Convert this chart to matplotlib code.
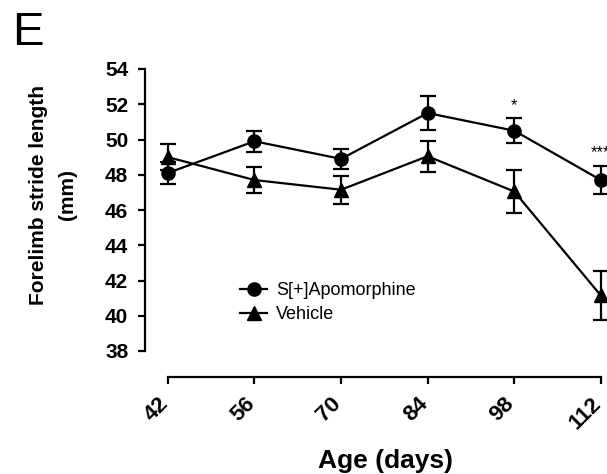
import matplotlib
matplotlib.use("Agg")
import matplotlib.pyplot as plt
import matplotlib.transforms as mtransforms
from matplotlib.lines import Line2D

plt.rcParams['font.family'] = ['Liberation Sans', 'DejaVu Sans']

# Age in days and forelimb stride length (mean ± SEM)
ages = [42, 56, 70, 84, 98, 112]
apo_mean = [48.1, 49.9, 48.9, 51.5, 50.5, 47.7]
apo_sem = [0.65, 0.6, 0.55, 0.95, 0.72, 0.82]
veh_mean = [49.0, 47.7, 47.15, 49.05, 47.05, 41.15]
veh_sem = [0.75, 0.75, 0.8, 0.88, 1.2, 1.4]
stars = {98: "*", 112: "***"}
yticks = [38, 40, 42, 44, 46, 48, 50, 52, 54]

W, H = 607, 474
fig = plt.figure(figsize=(W / 100, H / 100), dpi=100)
ax = fig.add_axes([145 / W, 1 - 351 / H, 462 / W, 282 / H])

# detached axes: spines first, since moving a spine resets its ticks
for s in ('top', 'right'):
    ax.spines[s].set_visible(False)
ax.spines['left'].set_linewidth(1.6)
ax.spines['bottom'].set_linewidth(1.6)
ax.spines['bottom'].set_position(('outward', 19))
ax.spines['bottom'].set_bounds(42, 112)
ax.patch.set_visible(False)

common = dict(color='black', lw=1.6, elinewidth=1.6, capsize=5.5, capthick=1.6,
              markersize=9.5, clip_on=False, zorder=3)
ax.errorbar(ages, apo_mean, yerr=apo_sem, marker='o', **common)
ax.errorbar(ages, veh_mean, yerr=veh_sem, marker='^', **common)

# significance markers above the treated group
for a, s in stars.items():
    i = ages.index(a)
    ax.text(a, apo_mean[i] + apo_sem[i] + 0.3, s, ha='center', va='bottom',
            fontsize=12, clip_on=False)

ax.set_xlim(38.3, 113.0)
ax.set_ylim(38, 54)
ax.set_yticks(yticks)
ax.set_xticks(ages)
ax.tick_params(axis='both', direction='out', length=5, width=1.6)
ax.tick_params(axis='y', pad=7)
ax.tick_params(axis='x', pad=12)
ax.set_xticklabels([str(a) for a in ages], rotation=45, ha='right', va='center',
                   rotation_mode='anchor', fontsize=16, fontweight='bold')
ax.set_yticklabels([str(v) for v in yticks], fontsize=15, fontweight='bold')
shift = mtransforms.ScaledTranslation(-3 / 100, 0, fig.dpi_scale_trans)
for lbl in ax.get_xticklabels():
    lbl.set_transform(lbl.get_transform() + shift)

ax.set_ylabel('Forelimb stride length\n(mm)', fontsize=15, fontweight='bold',
              linespacing=1.65)
ax.yaxis.set_label_coords((77 - 145) / 462, (351 - 195) / 282)
ax.set_xlabel('Age (days)', fontsize=19, fontweight='bold')
ax.xaxis.set_label_coords((386 - 145) / 462, (351 - 449) / 282)

handles = [Line2D([], [], color='black', lw=1.6, marker='o', markersize=9.5),
           Line2D([], [], color='black', lw=1.6, marker='^', markersize=9.5)]
ax.legend(handles, ['S[+]Apomorphine', 'Vehicle'], loc='upper left',
          bbox_to_anchor=(0.19, 0.27), frameon=False, fontsize=13,
          handlelength=1.5, handletextpad=0.5, labelspacing=0.4, borderaxespad=0)

fig.text(12 / W, 1 - 11 / H, 'E', fontsize=34, ha='left', va='top')

fig.savefig('out.png', dpi=100)
